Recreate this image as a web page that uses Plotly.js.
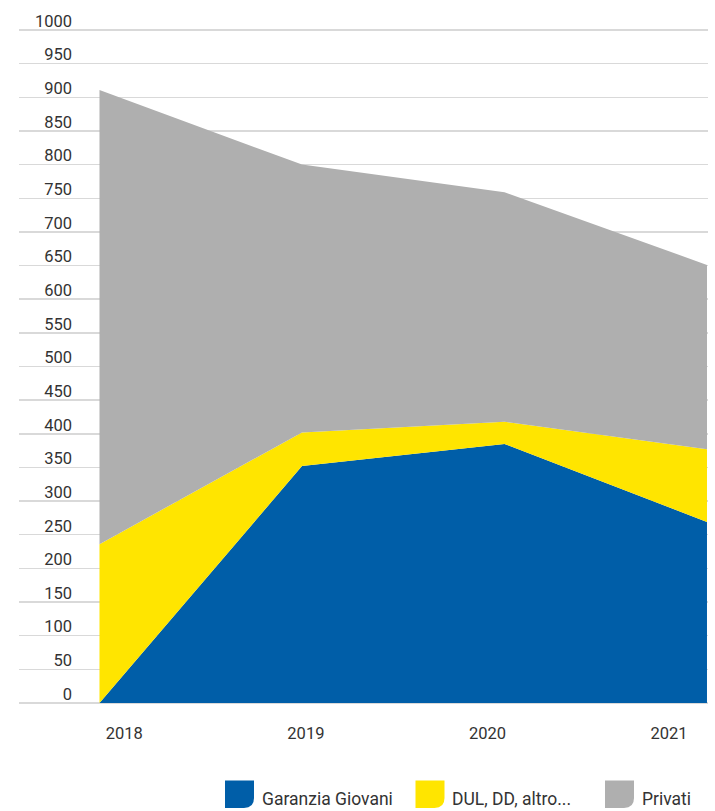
<!DOCTYPE html>
<html>
<head>
<meta charset="utf-8">
<script src="https://cdn.plot.ly/plotly-3.0.1.min.js"></script>
<style>
  html, body { margin: 0; padding: 0; background: #ffffff; }
  #chart { width: 715px; height: 811px; }
</style>
</head>
<body>
<div id="chart"></div>
<script>
// ---- data ----
var years = [2018, 2019, 2020, 2021];
var yearLabels = ["2018", "2019", "2020", "2021"];
var seriesNames = ["Garanzia Giovani", "DUL, DD, altro...", "Privati"];
var garanziaGiovani = [0, 352, 385, 269];
var dulDdAltro = [236, 50, 33, 108];
var privati = [675, 398, 341, 274];
var seriesColors = ["#005ea8", "#ffe500", "#afafaf"];

// ---- layout geometry ----
var W = 715, H = 811;
var M = { l: 19, r: 7, t: 27.5, b: 106 };
var PW = W - M.l - M.r, PH = H - M.t - M.b;
function px2x(px) { return (px - M.l) / PW; }
function py2y(py) { return (H - M.b - py) / PH; }

var seriesValues = [garanziaGiovani, dulDdAltro, privati];
var traces = seriesValues.map(function (vals, i) {
  return {
    type: "scatter",
    mode: "lines",
    x: years,
    y: vals,
    name: seriesNames[i],
    stackgroup: "one",
    line: { width: 0, color: seriesColors[i] },
    fillcolor: seriesColors[i],
    hoverinfo: "skip",
    showlegend: false
  };
});
// carrier for the category label axis (no visible marks)
traces.push({
  type: "scatter", mode: "none",
  x: years, y: years.map(function () { return null; }),
  xaxis: "x2", yaxis: "y",
  hoverinfo: "skip", showlegend: false
});

// manual legend: swatches (rounded bottom-right corner) + text
var swatchLeft = [225, 415.5, 605];
var textLeft = [260, 449.5, 639.5];
var swTop = 780.5, swBot = 808, swW = 29, rad = 10;
var shapes = [], annotations = [];
for (var i = 0; i < seriesNames.length; i++) {
  var x0 = swatchLeft[i], x1 = swatchLeft[i] + swW;
  var p = "M" + px2x(x0) + "," + py2y(swTop) +
          " L" + px2x(x1) + "," + py2y(swTop) +
          " L" + px2x(x1) + "," + py2y(swBot - rad) +
          " Q" + px2x(x1) + "," + py2y(swBot) + " " + px2x(x1 - rad) + "," + py2y(swBot) +
          " L" + px2x(x0) + "," + py2y(swBot) + " Z";
  shapes.push({
    type: "path", xref: "paper", yref: "paper", path: p,
    fillcolor: seriesColors[i], line: { width: 0 }, layer: "above"
  });
  annotations.push({
    xref: "paper", yref: "paper",
    x: px2x(textLeft[i]), y: py2y(799),
    xanchor: "left", yanchor: "middle",
    text: seriesNames[i], showarrow: false,
    font: { family: "Roboto, 'Open Sans', sans-serif", size: 17.5, color: "#333333" }
  });
}

var tickFont = { family: "Roboto, 'Open Sans', sans-serif", size: 16.5, color: "#333333" };

var layout = {
  width: W, height: H,
  margin: M,
  paper_bgcolor: "#ffffff",
  plot_bgcolor: "#ffffff",
  showlegend: false,
  xaxis: {
    type: "linear",
    range: [2017.6025, 2021.005],
    showgrid: false, zeroline: false, showline: false,
    showticklabels: false, ticks: "",
    fixedrange: true
  },
  xaxis2: {
    type: "linear",
    overlaying: "x", anchor: "y", side: "bottom",
    range: [2017.42, 2021.2147],
    tickmode: "array", tickvals: years, ticktext: yearLabels,
    showgrid: false, zeroline: false, showline: false, ticks: "",
    ticklabelstandoff: 16,
    tickfont: tickFont,
    fixedrange: true
  },
  yaxis: {
    range: [-3, 1003],
    tickmode: "linear", tick0: 0, dtick: 50,
    showgrid: true, gridcolor: "#d9d9d9", gridwidth: 1.5,
    zeroline: false, showline: false, ticks: "",
    ticklabelstandoff: -54,
    ticklabelshift: -9,
    tickfont: tickFont,
    fixedrange: true
  },
  shapes: shapes,
  annotations: annotations
};

Plotly.newPlot("chart", traces, layout, { displayModeBar: false, staticPlot: true });
</script>
</body>
</html>
